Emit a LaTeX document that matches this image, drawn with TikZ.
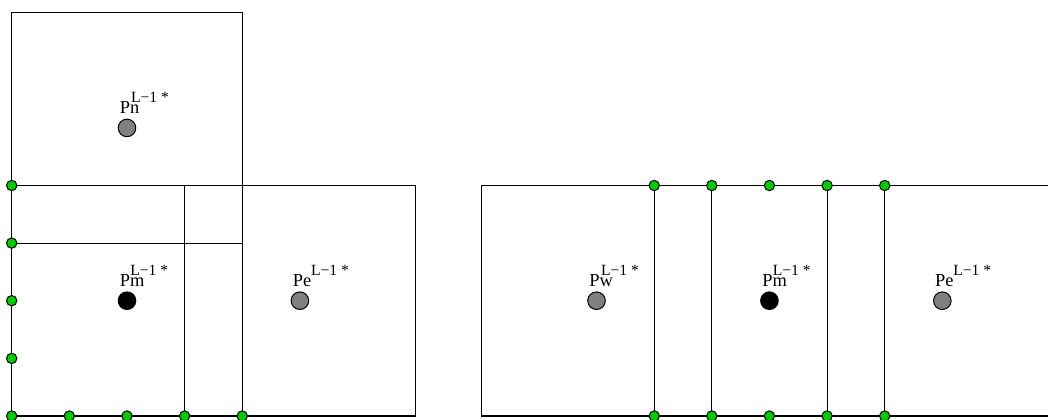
\documentclass[tikz,border=0pt]{standalone}
\usepackage{fontspec}
\setmainfont{Liberation Serif}
\usetikzlibrary{calc,positioning}
\definecolor{faceGreen}{rgb}{0.0, 0.8, 0.0}
\definecolor{nbGray}{rgb}{0.5, 0.5, 0.5}

\begin{document}
\begin{tikzpicture}[x=0.5pt, y=-0.5pt,
		cell/.style={draw, line width=0.6pt},
		centre/.style={circle, draw, line width=0.5pt, minimum size=8.8pt, inner sep=0pt},
		neighbour/.style={centre, fill=nbGray},
		own/.style={centre, fill=black},
		facePt/.style={circle, draw, line width=0.5pt, fill=faceGreen, minimum size=5.2pt, inner sep=0pt},
		cellName/.style={anchor=base west, inner sep=0pt, font=\rmfamily\fontsize{9.2}{11}\selectfont},
		levelSup/.style={anchor=base west, inner sep=0pt, font=\rmfamily\fontsize{7.8}{9}\selectfont}]
		
		\clip (0,0) rectangle (1048,419);
		
		% cell centres
		\coordinate (pn) at (127, 127.9);
		\coordinate (pm) at (127, 300.7);
		\coordinate (pe) at (299.9, 300.7);
		\coordinate (pw2) at (596.5, 300.7);
		\coordinate (pm2) at (769.4, 300.7);
		\coordinate (pe2) at (942.3, 300.7);
		
		% left: north and east neighbours
		\draw [cell] (11.7, 12.6) rectangle (242.2, 243.1);
		\draw [cell] (11.7, 185.5) rectangle (242.2, 416);
		\draw [cell] (184.6, 185.5) rectangle (415.1, 416);
		
		% right: west and east neighbours
		\draw [cell] (481.3, 185.5) rectangle (711.8, 416);
		\draw [cell] (654.2, 185.5) rectangle (884.7, 416);
		\draw [cell] (827.1, 185.5) rectangle (1057.6, 416);
		
		\foreach \c/\txt/\dx/\kind in {pn/Pn/3.7/neighbour, pm/Pm/3/own, pe/Pe/10.7/neighbour,
			pw2/Pw/4.2/neighbour, pm2/Pm/3/own, pe2/Pe/10.7/neighbour}
		{\node [\kind] (\c Dot) at (\c) {};
		 \node [cellName] (\c Name) at ($(\c)+(-7.5,-14)$) {\txt};
		 \node [levelSup] (\c Sup) at ($(\c)+(\dx,-25)$) {L−1 *};}
		
		\foreach \y [count=\i] in {185.5, 243.1, 300.7, 358.4, 416}
		{\node [facePt] (wf\i) at (11.7, \y) {};}
		\foreach \x [count=\i] in {69.3, 127, 184.6, 242.2}
		{\node [facePt] (sf\i) at (\x, 416) {};}
		
		\foreach \x [count=\i] in {654.2, 711.8, 769.4, 827.1, 884.7}
		{\node [facePt] (nf\i) at (\x, 185.5) {};
		 \node [facePt] (bf\i) at (\x, 416) {};}
	\end{tikzpicture}
\end{document}
